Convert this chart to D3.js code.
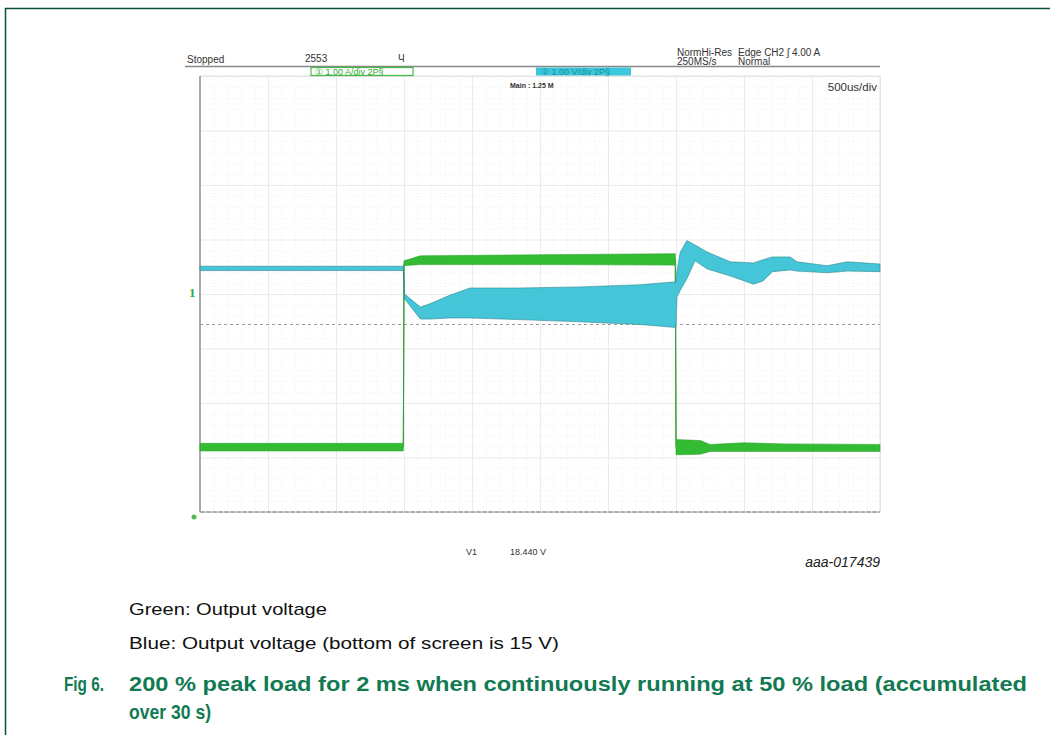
<!DOCTYPE html>
<html>
<head>
<meta charset="utf-8">
<script src="https://cdn.jsdelivr.net/npm/d3@7"></script>
<style>
  body { margin: 0; background: #fff; }
  svg { display: block; }
  .scope { font-family: "Liberation Sans Narrow", "Arial Narrow", "Liberation Sans", sans-serif; fill: #333; }
</style>
</head>
<body>
<div id="chart"></div>
<script>
// time axis: 500 us/div, 10 divisions -> 0..5 ms
var timeDomain = [0, 5];
var divCount = 8;

// green trace (divisions from bottom of screen), envelope of accumulated captures
var greenTime  = [0, 1.495, 1.5, 1.62, 2.5, 3.495, 3.5, 3.68, 3.75, 4.0, 4.3, 5.0];
var greenUpper = [1.26, 1.26, 4.61, 4.70, 4.72, 4.74, 1.33, 1.31, 1.24, 1.27, 1.25, 1.24];
var greenLower = [1.12, 1.12, 4.52, 4.54, 4.54, 4.53, 1.05, 1.06, 1.11, 1.11, 1.11, 1.11];

// blue trace (volts, 1 V/div, bottom of screen is 15 V)
var blueTime  = [0, 1.495, 1.505, 1.62, 1.69, 1.84, 1.985, 2.35, 2.79, 3.235, 3.478, 3.5, 3.507, 3.53, 3.58, 3.64, 3.73, 3.90, 4.07, 4.14, 4.21, 4.34, 4.39, 4.61, 4.76, 5.0];
var blueUpper = [19.51, 19.51, 19.00, 18.76, 18.82, 18.98, 19.11, 19.11, 19.13, 19.17, 19.22, 19.22, 19.41, 19.76, 19.98, 19.90, 19.77, 19.59, 19.57, 19.63, 19.68, 19.68, 19.59, 19.52, 19.59, 19.55];
var blueLower = [19.43, 19.43, 18.91, 18.54, 18.54, 18.56, 18.56, 18.53, 18.49, 18.44, 18.39, 18.39, 18.94, 19.06, 19.28, 19.61, 19.46, 19.33, 19.18, 19.24, 19.41, 19.44, 19.42, 19.39, 19.42, 19.41];
var blueBottom = 15;

// cursor and channel marker
var cursorV1 = 18.44;
var ch1Marker = 4.04;

var captionLines = ["Green: Output voltage", "Blue: Output voltage (bottom of screen is 15 V)"];
var figLabel = "Fig 6.";
var figTitle = ["200 % peak load for 2 ms when continuously running at 50 % load (accumulated", "over 30 s)"];

var W = 1050, H = 735;
var plot = { left: 200, right: 880, top: 76, bottom: 512 };

var svg = d3.select("#chart").append("svg")
  .attr("width", W)
  .attr("height", H);

// figure frame
svg.append("path")
  .attr("d", "M5.5," + H + " V8.5 H" + W)
  .attr("fill", "none")
  .attr("stroke", "#0b4f3f")
  .attr("stroke-width", 1.5);

var x = d3.scaleLinear().domain(timeDomain).range([plot.left, plot.right]);
var yDiv = d3.scaleLinear().domain([0, divCount]).range([plot.bottom, plot.top]);
var yV = d3.scaleLinear().domain([blueBottom, blueBottom + divCount]).range([plot.bottom, plot.top]);

// minor grid
var minorX = d3.range(0, 5.0001, 0.1), minorY = d3.range(0, 8.0001, 0.2);
svg.append("g").call(d3.axisBottom(x).tickValues(minorX).tickSize(-(plot.bottom - plot.top)).tickFormat(""))
  .attr("transform", "translate(0," + plot.bottom + ")")
  .call(function (g) { g.select(".domain").remove(); })
  .selectAll("line").attr("stroke", "#f0f0f0").attr("stroke-dasharray", "1,2");
svg.append("g").call(d3.axisLeft(yDiv).tickValues(minorY).tickSize(-(plot.right - plot.left)).tickFormat(""))
  .attr("transform", "translate(" + plot.left + ",0)")
  .call(function (g) { g.select(".domain").remove(); })
  .selectAll("line").attr("stroke", "#f0f0f0").attr("stroke-dasharray", "1,2");

// major grid
svg.append("g").call(d3.axisBottom(x).ticks(10).tickSize(-(plot.bottom - plot.top)).tickFormat(""))
  .attr("transform", "translate(0," + plot.bottom + ")")
  .call(function (g) { g.select(".domain").remove(); })
  .selectAll("line").attr("stroke", "#ebebeb");
svg.append("g").call(d3.axisLeft(yDiv).ticks(8).tickSize(-(plot.right - plot.left)).tickFormat(""))
  .attr("transform", "translate(" + plot.left + ",0)")
  .call(function (g) { g.select(".domain").remove(); })
  .selectAll("line").attr("stroke", "#ebebeb");

// plot frame
svg.append("rect")
  .attr("x", plot.left).attr("y", plot.top)
  .attr("width", plot.right - plot.left).attr("height", plot.bottom - plot.top)
  .attr("fill", "none").attr("stroke", "#e0e0e0");
svg.append("line")
  .attr("x1", plot.left).attr("x2", plot.left).attr("y1", plot.top).attr("y2", plot.bottom)
  .attr("stroke", "#aaaaaa").attr("stroke-width", 2);
svg.append("line")
  .attr("x1", plot.left).attr("x2", plot.right).attr("y1", plot.bottom).attr("y2", plot.bottom)
  .attr("stroke", "#9a9a9a").attr("stroke-width", 1.5).attr("stroke-dasharray", "5,1");

// cursor V1
svg.append("line")
  .attr("x1", plot.left).attr("x2", plot.right)
  .attr("y1", yV(cursorV1)).attr("y2", yV(cursorV1))
  .attr("stroke", "#9a9a9a").attr("stroke-width", 1).attr("stroke-dasharray", "3,3");

// green trace
var greenData = greenTime.map(function (t, i) { return { t: t, u: greenUpper[i], l: greenLower[i] }; });
svg.append("path")
  .datum(greenData)
  .attr("fill", "none")
  .attr("stroke", "#3a8a3a")
  .attr("stroke-width", 1)
  .attr("d", d3.line()
    .x(function (d) { return x(d.t); })
    .y(function (d) { return yDiv((d.u + d.l) / 2); }));
svg.append("path")
  .datum(greenData)
  .attr("fill", "#33bb33")
  .attr("stroke", "#2ea82e")
  .attr("stroke-width", 0.6)
  .attr("d", d3.area()
    .x(function (d) { return x(d.t); })
    .y0(function (d) { return yDiv(d.l); })
    .y1(function (d) { return yDiv(d.u); }));

// blue trace
var blueData = blueTime.map(function (t, i) { return { t: t, u: blueUpper[i], l: blueLower[i] }; });
svg.append("path")
  .datum(blueData)
  .attr("fill", "#44c6d8")
  .attr("stroke", "#2a7f8a")
  .attr("stroke-opacity", 0.7)
  .attr("stroke-width", 0.8)
  .attr("d", d3.area()
    .x(function (d) { return x(d.t); })
    .y0(function (d) { return yV(d.l); })
    .y1(function (d) { return yV(d.u); }));

// channel markers
svg.append("text")
  .attr("x", 189).attr("y", yDiv(ch1Marker) + 5)
  .attr("fill", "#33aa33")
  .style("font-family", "Liberation Serif, serif")
  .style("font-weight", "bold")
  .style("font-size", "13px")
  .text("1");
svg.append("circle")
  .attr("cx", 194).attr("cy", yV(blueBottom) + 5).attr("r", 2.5)
  .attr("fill", "#55bb55");

// header
var hdr = svg.append("g").attr("class", "scope").style("font-size", "10px");
svg.append("line")
  .attr("x1", 185).attr("x2", plot.right).attr("y1", 66.5).attr("y2", 66.5)
  .attr("stroke", "#888").attr("stroke-width", 1.5);
hdr.append("text").attr("x", 187).attr("y", 63).text("Stopped");
hdr.append("text").attr("x", 305).attr("y", 62).text("2553");
hdr.append("text").attr("x", 398).attr("y", 62).text("Ч");
hdr.append("text").attr("x", 677).attr("y", 56).text("NormHi-Res");
hdr.append("text").attr("x", 677).attr("y", 65).text("250MS/s");
hdr.append("text").attr("x", 738).attr("y", 56).text("Edge CH2 \u0283 4.00 A");
hdr.append("text").attr("x", 738).attr("y", 65).text("Normal");

// channel boxes
svg.append("rect").attr("x", 311).attr("y", 67.5).attr("width", 102).attr("height", 8)
  .attr("fill", "#fff").attr("stroke", "#44bb44").attr("stroke-width", 1.2);
svg.append("text").attr("class", "scope").attr("x", 315).attr("y", 75)
  .style("font-size", "9px").style("fill", "#33aa33")
  .text("\u2460  1.00 A/div 2P\u00a7");
svg.append("rect").attr("x", 536).attr("y", 67.5).attr("width", 95).attr("height", 8)
  .attr("fill", "#3cc8dc");
svg.append("text").attr("class", "scope").attr("x", 541).attr("y", 75)
  .style("font-size", "9px").style("fill", "#1d8a9a")
  .text("\u2461  1.00 V/div 2P\u00a7");

svg.append("text").attr("class", "scope").attr("x", 510).attr("y", 88)
  .style("font-size", "7px").style("font-weight", "bold")
  .text("Main : 1.25 M");
svg.append("text").attr("class", "scope").attr("x", 877).attr("y", 91)
  .attr("text-anchor", "end").style("font-size", "11.5px")
  .text("500us/div");

// cursor readout
svg.append("text").attr("class", "scope").attr("x", 466).attr("y", 555)
  .style("font-size", "9px").text("V1");
svg.append("text").attr("class", "scope").attr("x", 510).attr("y", 555)
  .style("font-size", "9px").text(d3.format(".3f")(cursorV1) + " V");

svg.append("text")
  .attr("x", 880).attr("y", 567).attr("text-anchor", "end")
  .style("font-family", "Liberation Sans, Arial, sans-serif")
  .style("font-style", "italic")
  .style("font-size", "14px")
  .style("fill", "#222")
  .text("aaa-017439");

// caption
var cap = svg.append("g").style("font-family", "Liberation Sans Narrow, Arial Narrow, Liberation Sans, sans-serif");
cap.append("text").attr("x", 129).attr("y", 615).style("font-size", "17px").style("fill", "#111")
  .attr("textLength", 198).attr("lengthAdjust", "spacingAndGlyphs").text(captionLines[0]);
cap.append("text").attr("x", 129).attr("y", 649).style("font-size", "17px").style("fill", "#111")
  .attr("textLength", 430).attr("lengthAdjust", "spacingAndGlyphs").text(captionLines[1]);
cap.append("text").attr("x", 64).attr("y", 691).style("font-size", "21px").style("font-weight", "bold")
  .style("fill", "#127a52").attr("textLength", 40).attr("lengthAdjust", "spacingAndGlyphs").text(figLabel);
cap.append("text").attr("x", 129).attr("y", 691).style("font-size", "21px").style("font-weight", "bold")
  .style("fill", "#127a52").attr("textLength", 898).attr("lengthAdjust", "spacingAndGlyphs").text(figTitle[0]);
cap.append("text").attr("x", 129).attr("y", 719).style("font-size", "21px").style("font-weight", "bold")
  .style("fill", "#127a52").attr("textLength", 82).attr("lengthAdjust", "spacingAndGlyphs").text(figTitle[1]);
</script>
</body>
</html>
